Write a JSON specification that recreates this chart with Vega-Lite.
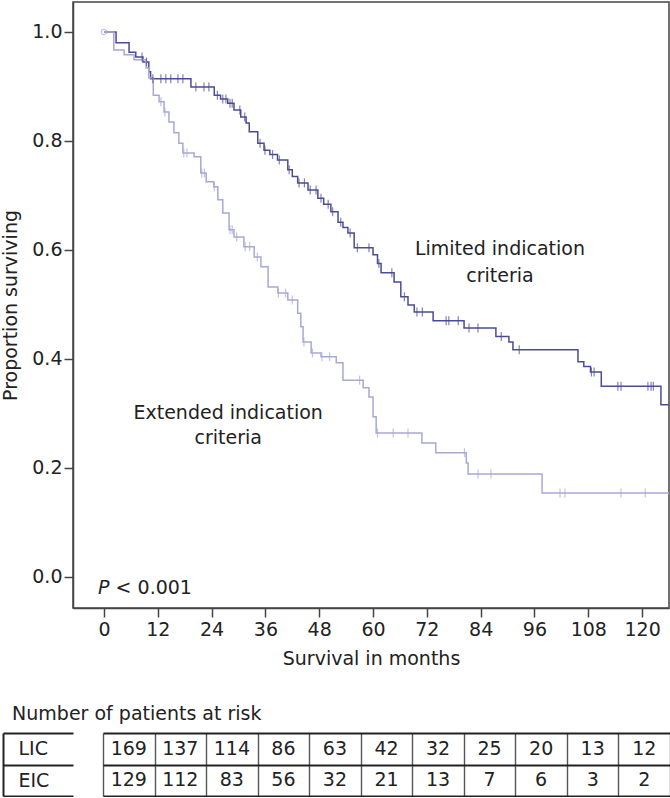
{
  "$schema": "https://vega.github.io/schema/vega-lite/v6.json",
  "background": "white",
  "padding": {"left": 1, "top": 1, "right": 0, "bottom": 0},
  "config": {
    "font": "DejaVu Sans",
    "axis": {"labelFont": "DejaVu Sans", "titleFont": "DejaVu Sans", "labelFontSize": 19, "titleFontSize": 19, "titleFontWeight": "normal", "labelColor": "#222", "titleColor": "#222", "domainColor": "#444", "domainWidth": 1.5, "tickColor": "#444", "tickWidth": 1.5, "grid": false},
    "text": {"font": "DejaVu Sans"}
  },
  "datasets": {
    "km": [
      {"g": "LIC", "t": 0, "s": 1.0}, {"g": "LIC", "t": 2.7, "s": 0.98}, {"g": "LIC", "t": 5.6, "s": 0.963}, {"g": "LIC", "t": 7.1, "s": 0.954}, {"g": "LIC", "t": 8.7, "s": 0.945}, {"g": "LIC", "t": 10, "s": 0.927}, {"g": "LIC", "t": 10.4, "s": 0.914},
      {"g": "LIC", "t": 19.4, "s": 0.899}, {"g": "LIC", "t": 24.6, "s": 0.884}, {"g": "LIC", "t": 26, "s": 0.877}, {"g": "LIC", "t": 27.6, "s": 0.869}, {"g": "LIC", "t": 29, "s": 0.857}, {"g": "LIC", "t": 30.5, "s": 0.844}, {"g": "LIC", "t": 31.7, "s": 0.833}, {"g": "LIC", "t": 32.4, "s": 0.817}, {"g": "LIC", "t": 34.3, "s": 0.796}, {"g": "LIC", "t": 35.7, "s": 0.783}, {"g": "LIC", "t": 37, "s": 0.775}, {"g": "LIC", "t": 38.7, "s": 0.765}, {"g": "LIC", "t": 41, "s": 0.747}, {"g": "LIC", "t": 42, "s": 0.735}, {"g": "LIC", "t": 43.2, "s": 0.723}, {"g": "LIC", "t": 45.5, "s": 0.71}, {"g": "LIC", "t": 47.7, "s": 0.695}, {"g": "LIC", "t": 49, "s": 0.684}, {"g": "LIC", "t": 50.6, "s": 0.67}, {"g": "LIC", "t": 52.2, "s": 0.651}, {"g": "LIC", "t": 53.3, "s": 0.641}, {"g": "LIC", "t": 54.4, "s": 0.631}, {"g": "LIC", "t": 55.8, "s": 0.604}, {"g": "LIC", "t": 60, "s": 0.591}, {"g": "LIC", "t": 61, "s": 0.575}, {"g": "LIC", "t": 61.8, "s": 0.558}, {"g": "LIC", "t": 64.7, "s": 0.541}, {"g": "LIC", "t": 66.2, "s": 0.514}, {"g": "LIC", "t": 67.8, "s": 0.499}, {"g": "LIC", "t": 69.2, "s": 0.486}, {"g": "LIC", "t": 73.4, "s": 0.47}, {"g": "LIC", "t": 80.3, "s": 0.457}, {"g": "LIC", "t": 87.4, "s": 0.441}, {"g": "LIC", "t": 90.3, "s": 0.431}, {"g": "LIC", "t": 91.2, "s": 0.417}, {"g": "LIC", "t": 105.7, "s": 0.395}, {"g": "LIC", "t": 107, "s": 0.386}, {"g": "LIC", "t": 108.5, "s": 0.376}, {"g": "LIC", "t": 110.9, "s": 0.35}, {"g": "LIC", "t": 124.2, "s": 0.316}, {"g": "LIC", "t": 126, "s": 0.316},
      {"g": "EIC", "t": 0, "s": 1.0}, {"g": "EIC", "t": 2.2, "s": 0.967}, {"g": "EIC", "t": 4.5, "s": 0.958}, {"g": "EIC", "t": 6.7, "s": 0.949}, {"g": "EIC", "t": 9.4, "s": 0.934}, {"g": "EIC", "t": 10, "s": 0.916}, {"g": "EIC", "t": 11, "s": 0.884}, {"g": "EIC", "t": 12.3, "s": 0.872}, {"g": "EIC", "t": 13.4, "s": 0.853}, {"g": "EIC", "t": 14.5, "s": 0.835}, {"g": "EIC", "t": 15.6, "s": 0.815}, {"g": "EIC", "t": 16.7, "s": 0.796}, {"g": "EIC", "t": 17.6, "s": 0.778}, {"g": "EIC", "t": 20.1, "s": 0.771}, {"g": "EIC", "t": 21.6, "s": 0.741}, {"g": "EIC", "t": 22.8, "s": 0.725}, {"g": "EIC", "t": 24.5, "s": 0.716}, {"g": "EIC", "t": 25.4, "s": 0.692}, {"g": "EIC", "t": 26.5, "s": 0.668}, {"g": "EIC", "t": 27.9, "s": 0.637}, {"g": "EIC", "t": 29, "s": 0.624}, {"g": "EIC", "t": 31.2, "s": 0.606}, {"g": "EIC", "t": 33.5, "s": 0.587}, {"g": "EIC", "t": 35, "s": 0.569}, {"g": "EIC", "t": 36.6, "s": 0.532}, {"g": "EIC", "t": 38.8, "s": 0.521}, {"g": "EIC", "t": 41, "s": 0.508}, {"g": "EIC", "t": 43.2, "s": 0.484}, {"g": "EIC", "t": 43.9, "s": 0.459}, {"g": "EIC", "t": 44.4, "s": 0.431}, {"g": "EIC", "t": 46.2, "s": 0.411}, {"g": "EIC", "t": 48.4, "s": 0.404}, {"g": "EIC", "t": 51.8, "s": 0.393}, {"g": "EIC", "t": 53.3, "s": 0.361}, {"g": "EIC", "t": 57.8, "s": 0.347}, {"g": "EIC", "t": 59.1, "s": 0.33}, {"g": "EIC", "t": 60, "s": 0.294}, {"g": "EIC", "t": 60.7, "s": 0.264}, {"g": "EIC", "t": 70.9, "s": 0.246}, {"g": "EIC", "t": 74, "s": 0.228}, {"g": "EIC", "t": 80.8, "s": 0.209}, {"g": "EIC", "t": 81.2, "s": 0.189}, {"g": "EIC", "t": 97.7, "s": 0.154}, {"g": "EIC", "t": 126, "s": 0.154}
    ],
    "censor": [
      {"g": "LIC", "t": 8.5, "s": 0.954}, {"g": "LIC", "t": 9.5, "s": 0.945}, {"g": "LIC", "t": 10.9, "s": 0.914}, {"g": "LIC", "t": 12.7, "s": 0.914}, {"g": "LIC", "t": 13.8, "s": 0.914}, {"g": "LIC", "t": 14.9, "s": 0.914}, {"g": "LIC", "t": 16.5, "s": 0.914}, {"g": "LIC", "t": 17.6, "s": 0.914}, {"g": "LIC", "t": 20.5, "s": 0.899}, {"g": "LIC", "t": 22.3, "s": 0.899}, {"g": "LIC", "t": 23.4, "s": 0.899}, {"g": "LIC", "t": 25.3, "s": 0.884}, {"g": "LIC", "t": 26.5, "s": 0.877}, {"g": "LIC", "t": 27.2, "s": 0.877}, {"g": "LIC", "t": 28.1, "s": 0.869}, {"g": "LIC", "t": 28.6, "s": 0.869}, {"g": "LIC", "t": 30.3, "s": 0.857}, {"g": "LIC", "t": 31.4, "s": 0.844}, {"g": "LIC", "t": 34.8, "s": 0.796}, {"g": "LIC", "t": 35.9, "s": 0.783}, {"g": "LIC", "t": 37.6, "s": 0.775}, {"g": "LIC", "t": 39.1, "s": 0.765}, {"g": "LIC", "t": 41.3, "s": 0.747}, {"g": "LIC", "t": 43.5, "s": 0.723}, {"g": "LIC", "t": 44.7, "s": 0.723}, {"g": "LIC", "t": 46, "s": 0.71}, {"g": "LIC", "t": 47.3, "s": 0.71}, {"g": "LIC", "t": 48.4, "s": 0.695}, {"g": "LIC", "t": 50, "s": 0.684}, {"g": "LIC", "t": 51, "s": 0.67}, {"g": "LIC", "t": 52.8, "s": 0.651}, {"g": "LIC", "t": 54.9, "s": 0.631}, {"g": "LIC", "t": 56.5, "s": 0.604}, {"g": "LIC", "t": 59.1, "s": 0.604}, {"g": "LIC", "t": 61.3, "s": 0.575}, {"g": "LIC", "t": 64.2, "s": 0.558}, {"g": "LIC", "t": 67, "s": 0.514}, {"g": "LIC", "t": 69.8, "s": 0.486}, {"g": "LIC", "t": 71, "s": 0.486}, {"g": "LIC", "t": 76.3, "s": 0.47}, {"g": "LIC", "t": 76.9, "s": 0.47}, {"g": "LIC", "t": 79, "s": 0.47}, {"g": "LIC", "t": 81.4, "s": 0.457}, {"g": "LIC", "t": 83.4, "s": 0.457}, {"g": "LIC", "t": 88.6, "s": 0.441}, {"g": "LIC", "t": 92.6, "s": 0.417}, {"g": "LIC", "t": 108.7, "s": 0.376}, {"g": "LIC", "t": 109.3, "s": 0.376}, {"g": "LIC", "t": 114.6, "s": 0.35}, {"g": "LIC", "t": 115.3, "s": 0.35}, {"g": "LIC", "t": 121.3, "s": 0.35}, {"g": "LIC", "t": 122, "s": 0.35}, {"g": "LIC", "t": 122.5, "s": 0.35},
      {"g": "EIC", "t": 12.7, "s": 0.872}, {"g": "EIC", "t": 13.6, "s": 0.853}, {"g": "EIC", "t": 17.8, "s": 0.778}, {"g": "EIC", "t": 18.5, "s": 0.778}, {"g": "EIC", "t": 21.8, "s": 0.741}, {"g": "EIC", "t": 22.4, "s": 0.741}, {"g": "EIC", "t": 24.6, "s": 0.716}, {"g": "EIC", "t": 28.1, "s": 0.637}, {"g": "EIC", "t": 28.6, "s": 0.637}, {"g": "EIC", "t": 29.6, "s": 0.624}, {"g": "EIC", "t": 31.5, "s": 0.606}, {"g": "EIC", "t": 32.5, "s": 0.606}, {"g": "EIC", "t": 34.2, "s": 0.587}, {"g": "EIC", "t": 38.9, "s": 0.521}, {"g": "EIC", "t": 40.5, "s": 0.521}, {"g": "EIC", "t": 42, "s": 0.508}, {"g": "EIC", "t": 44.6, "s": 0.431}, {"g": "EIC", "t": 46.5, "s": 0.411}, {"g": "EIC", "t": 48.6, "s": 0.404}, {"g": "EIC", "t": 50.3, "s": 0.404}, {"g": "EIC", "t": 57, "s": 0.361}, {"g": "EIC", "t": 61, "s": 0.264}, {"g": "EIC", "t": 64.5, "s": 0.264}, {"g": "EIC", "t": 67.8, "s": 0.264}, {"g": "EIC", "t": 80.4, "s": 0.228}, {"g": "EIC", "t": 83.4, "s": 0.189}, {"g": "EIC", "t": 86.3, "s": 0.189}, {"g": "EIC", "t": 101.7, "s": 0.154}, {"g": "EIC", "t": 102.8, "s": 0.154}, {"g": "EIC", "t": 115.3, "s": 0.154}, {"g": "EIC", "t": 120.7, "s": 0.154}
    ],
    "risk": [
      {"group": "LIC", "time": 0, "n": 169}, {"group": "LIC", "time": 12, "n": 137}, {"group": "LIC", "time": 24, "n": 114}, {"group": "LIC", "time": 36, "n": 86}, {"group": "LIC", "time": 48, "n": 63}, {"group": "LIC", "time": 60, "n": 42}, {"group": "LIC", "time": 72, "n": 32}, {"group": "LIC", "time": 84, "n": 25}, {"group": "LIC", "time": 96, "n": 20}, {"group": "LIC", "time": 108, "n": 13}, {"group": "LIC", "time": 120, "n": 12},
      {"group": "EIC", "time": 0, "n": 129}, {"group": "EIC", "time": 12, "n": 112}, {"group": "EIC", "time": 24, "n": 83}, {"group": "EIC", "time": 36, "n": 56}, {"group": "EIC", "time": 48, "n": 32}, {"group": "EIC", "time": 60, "n": 21}, {"group": "EIC", "time": 72, "n": 13}, {"group": "EIC", "time": 84, "n": 7}, {"group": "EIC", "time": 96, "n": 6}, {"group": "EIC", "time": 108, "n": 3}, {"group": "EIC", "time": 120, "n": 2}
    ]
  },
  "spacing": 36,
  "vconcat": [
    {
      "width": 596,
      "height": 606,
      "view": {"stroke": "#444", "strokeWidth": 1.5},
      "encoding": {
        "x": {"type": "quantitative", "scale": {"domain": [-6.9, 126], "nice": false, "zero": false}, "axis": {"values": [0, 12, 24, 36, 48, 60, 72, 84, 96, 108, 120], "title": "Survival in months", "tickSize": 9, "labelPadding": 3, "titlePadding": 10, "labelFlush": false}},
        "y": {"type": "quantitative", "scale": {"domain": [-0.057, 1.055], "nice": false, "zero": false}, "axis": {"values": [0, 0.2, 0.4, 0.6, 0.8, 1.0], "format": ".1f", "title": "Proportion surviving", "tickSize": 9, "labelPadding": 2, "titlePadding": 11, "labelFlush": false}}
      },
      "layer": [
        {
          "data": {"name": "km"},
          "mark": {"type": "line", "interpolate": "step-after", "strokeWidth": 1.5},
          "encoding": {
            "x": {"field": "t", "type": "quantitative"},
            "y": {"field": "s", "type": "quantitative"},
            "color": {"field": "g", "type": "nominal", "scale": {"domain": ["LIC", "EIC"], "range": ["#4b4b99", "#a8a8d7"]}, "legend": null}
          }
        },
        {
          "data": {"name": "censor"},
          "mark": {"type": "tick", "orient": "vertical", "size": 9, "thickness": 1.2},
          "encoding": {
            "x": {"field": "t", "type": "quantitative"},
            "y": {"field": "s", "type": "quantitative"},
            "color": {"field": "g", "type": "nominal", "legend": null}
          }
        },
        {
          "data": {"values": [{}]},
          "mark": {"type": "point", "shape": "circle", "filled": false, "size": 30, "color": "#a8a8d7", "strokeWidth": 1.2},
          "encoding": {"x": {"datum": 0}, "y": {"datum": 1}}
        },
        {
          "data": {"values": [{}]},
          "mark": {"type": "text", "fontSize": 19, "lineHeight": 27, "align": "center", "baseline": "middle", "color": "#222"},
          "encoding": {"x": {"datum": 88.3}, "y": {"datum": 0.602}, "text": {"value": ["Limited indication", "criteria"]}}
        },
        {
          "data": {"values": [{}]},
          "mark": {"type": "text", "fontSize": 19, "lineHeight": 25, "align": "center", "baseline": "middle", "color": "#222"},
          "encoding": {"x": {"datum": 27.7}, "y": {"datum": 0.3}, "text": {"value": ["Extended indication", "criteria"]}}
        },
        {
          "data": {"values": [{}]},
          "mark": {"type": "text", "fontSize": 19, "fontStyle": "italic", "align": "left", "baseline": "middle", "color": "#222"},
          "encoding": {"x": {"datum": -1.3}, "y": {"datum": -0.02}, "text": {"value": "P"}}
        },
        {
          "data": {"values": [{}]},
          "mark": {"type": "text", "fontSize": 19, "align": "left", "baseline": "middle", "color": "#222"},
          "encoding": {"x": {"datum": 2.6}, "y": {"datum": -0.02}, "text": {"value": "< 0.001"}}
        }
      ]
    },
    {
      "width": 597,
      "height": 63,
      "view": {"stroke": null},
      "title": {"text": "Number of patients at risk", "anchor": "start", "fontSize": 19, "fontWeight": "normal", "font": "DejaVu Sans", "color": "#222", "dx": 10, "offset": 0},
      "data": {"name": "risk"},
      "mark": {"type": "text", "fontSize": 19, "color": "#222"},
      "encoding": {
        "x": {
          "field": "time", "type": "quantitative",
          "scale": {"domain": [-6, 126], "range": [30, 597], "nice": false, "zero": false},
          "axis": {"orient": "bottom", "values": [-6, 6, 18, 30, 42, 54, 66, 78, 90, 102, 114, 126], "grid": true, "gridColor": "#555", "gridWidth": 1.4, "labels": false, "ticks": false, "domain": false, "title": null}
        },
        "y": {
          "field": "group", "type": "nominal",
          "scale": {"type": "band", "domain": ["LIC", "EIC"], "paddingInner": 0, "paddingOuter": 0},
          "axis": {"orient": "left", "offset": 70, "domain": true, "domainColor": "#222", "domainWidth": 2, "ticks": true, "tickBand": "extent", "tickSize": -70, "tickColor": "#222", "tickWidth": 1.8, "grid": true, "gridColor": "#222", "gridWidth": 1.8, "labelAlign": "left", "labelBaseline": "middle", "labelPadding": 55, "labelFontSize": 19, "title": null}
        },
        "text": {"field": "n", "type": "quantitative"}
      }
    }
  ]
}
